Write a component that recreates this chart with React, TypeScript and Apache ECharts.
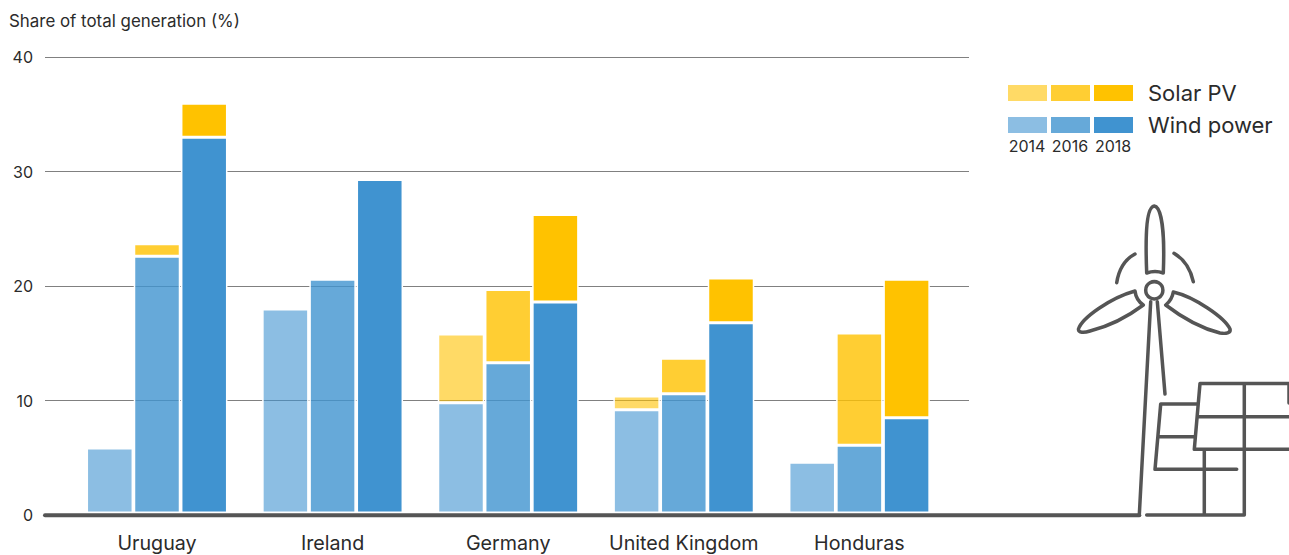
import React, { useEffect, useRef } from "react";
import * as echarts from "echarts";

const categories = ["Uruguay", "Ireland", "Germany", "United Kingdom", "Honduras"];
const years = ["2014", "2016", "2018"];
const wind2014 = [5.85, 18.0, 9.8, 9.2, 4.6];
const wind2016 = [22.6, 20.6, 13.3, 10.6, 6.1];
const wind2018 = [33.0, 29.3, 18.6, 16.8, 8.5];
const solar2014 = [0, 0, 6.0, 1.2, 0];
const solar2016 = [1.1, 0, 6.4, 3.1, 9.8];
const solar2018 = [2.95, 0, 7.65, 3.9, 12.1];
const yTicks = [0, 10, 20, 30, 40];

const FONT = "Inter";
const TEXT = "#2b2b2b";
const DARK = "#555555";
const SOLAR = ["rgba(255,194,0,0.6)", "rgba(255,194,0,0.8)", "rgb(255,194,0)"];
const WIND = ["rgba(64,147,208,0.6)", "rgba(64,147,208,0.8)", "rgb(64,147,208)"];

const turbinePath = [
  "M1146.7 273 C1145 230 1147 207 1154.3 206 C1161 207 1165 230 1163.3 273 Q1155 270 1146.7 273 Z",
  "M1135 291 C1110 298 1082 318 1078.5 329 C1078 333 1084 333 1090 331 C1110 326 1130 315 1143.3 305 Q1136 300 1135 291 Z",
  "M1173.3 292 C1195 297 1225 318 1230 329 C1231 333 1226 334 1220 333 C1200 328 1180 316 1165.7 305 Q1172 300 1173.3 292 Z",
  "M1135 254 Q1120 262 1116.7 282.7",
  "M1174 253.3 Q1189 262 1193.3 281.7",
  "M1139.3 515 L1150.7 301.7",
  "M1157.3 301.7 L1165 394",
  "M1146.7 515 L1244.3 515 L1244.3 383.5",
  "M1200 383.5 L1289 383.5 L1289 403",
  "M1200 383.5 L1194.3 449.3 L1289 449.3",
  "M1197.3 416.7 L1289 416.7",
  "M1198 404 L1160.7 404 L1155 469.3 L1236.7 469.3",
  "M1158.3 436.7 L1195 436.7",
  "M1204.3 449.3 L1204.3 515",
].join(" ");

echarts.graphic.registerShape("turbine", echarts.graphic.extendPath(turbinePath, {}) as any);

function barSeries(name: string, stack: string, data: number[], color: string) {
  return {
    name,
    type: "bar" as const,
    stack,
    xAxisIndex: 1,
    yAxisIndex: 1,
    data,
    barWidth: 46.5,
    barGap: "1.5%",
    itemStyle: { color, borderColor: "#ffffff", borderWidth: 1.5 },
  };
}

export default function App() {
  const ref = useRef<HTMLDivElement>(null);
  useEffect(() => {
    const chart = echarts.init(ref.current!, undefined, { renderer: "svg" });
    const legendX = [1008, 1051, 1094];
    const swatches: any[] = [];
    legendX.forEach((x, i) => {
      swatches.push({ type: "rect", z: 50, shape: { x, y: 85, width: 39, height: 16 }, style: { fill: SOLAR[i] } });
      swatches.push({ type: "rect", z: 50, shape: { x, y: 117, width: 39, height: 16 }, style: { fill: WIND[i] } });
      swatches.push({
        type: "text", z: 50, x: x + 19, y: 146,
        style: { text: years[i], fill: TEXT, font: `16px ${FONT}`, textAlign: "center", textVerticalAlign: "middle" },
      });
    });
    chart.setOption({
      animation: false,
      backgroundColor: "#ffffff",
      grid: [
        { left: 45, top: 57, width: 924, height: 458 },
        { left: 69.2, top: 57, width: 878, height: 458 },
      ],
      xAxis: [
        { type: "value", gridIndex: 0, min: 0, max: 1, show: false },
        {
          type: "category",
          gridIndex: 1,
          data: categories,
          axisLine: { show: false },
          axisTick: { show: false },
          axisLabel: { color: TEXT, fontFamily: FONT, fontSize: 19.7, lineHeight: 19, margin: 18.5, interval: 0 },
        },
      ],
      yAxis: [
        {
          type: "value",
          gridIndex: 0,
          min: 0,
          max: 40,
          interval: 10,
          axisLine: { show: false },
          axisTick: { show: false },
          axisLabel: {
            color: TEXT, fontFamily: FONT, fontSize: 16, margin: 12,
            formatter: (v: number) => (yTicks.includes(v) ? String(v) : ""),
          },
          splitLine: { lineStyle: { color: "#808080", width: 1 } },
        },
        { type: "value", gridIndex: 1, min: 0, max: 40, interval: 10, show: false, splitLine: { show: false } },
      ],
      series: [
        barSeries("Wind power 2014", "2014", wind2014, WIND[0]),
        barSeries("Solar PV 2014", "2014", solar2014, SOLAR[0]),
        barSeries("Wind power 2016", "2016", wind2016, WIND[1]),
        barSeries("Solar PV 2016", "2016", solar2016, SOLAR[1]),
        barSeries("Wind power 2018", "2018", wind2018, WIND[2]),
        barSeries("Solar PV 2018", "2018", solar2018, SOLAR[2]),
      ],
      graphic: [
        {
          type: "text", z: 50, x: 9, y: 21,
          style: { text: "Share of total generation (%)", fill: TEXT, font: `16.9px ${FONT}`, textVerticalAlign: "middle" },
        },
        { type: "rect", z: 40, shape: { x: 45, y: 511.5, width: 924, height: 3 }, style: { fill: "#ffffff" } },
        {
          type: "line", z: 50,
          shape: { x1: 45, y1: 515.3, x2: 1139.3, y2: 515.3 },
          style: { stroke: DARK, lineWidth: 4, lineCap: "round" },
        },
        {
          type: "turbine", z: 50, x: 0, y: 0,
          style: { fill: "none", stroke: DARK, lineWidth: 3.5, lineCap: "round", lineJoin: "round" },
        },
        { type: "circle", z: 50, shape: { cx: 1154.3, cy: 290.3, r: 8.6 }, style: { fill: "#ffffff", stroke: DARK, lineWidth: 3.5 } },
        ...swatches,
        {
          type: "text", z: 50, x: 1148, y: 93,
          style: { text: "Solar PV", fill: TEXT, font: `22px ${FONT}`, textVerticalAlign: "middle" },
        },
        {
          type: "text", z: 50, x: 1148, y: 125,
          style: { text: "Wind power", fill: TEXT, font: `22px ${FONT}`, textVerticalAlign: "middle" },
        },
      ],
    });
    return () => chart.dispose();
  }, []);
  return <div ref={ref} style={{ position: "fixed", left: 0, top: 0, width: 1289, height: 555 }} />;
}
